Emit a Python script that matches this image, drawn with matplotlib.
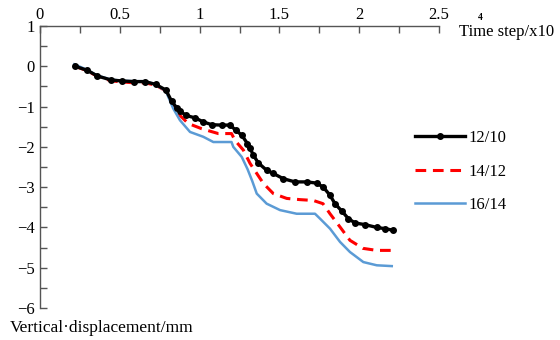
import numpy as np
import matplotlib.pyplot as plt
from matplotlib.ticker import MultipleLocator

# ========================
# data
# ========================
x_1210 = [0.22, 0.296, 0.359, 0.445, 0.516, 0.589, 0.658, 0.725, 0.789, 0.825,
          0.857, 0.877, 0.915, 0.971, 1.023, 1.076, 1.138, 1.19, 1.228, 1.264,
          1.30, 1.316, 1.336, 1.368, 1.42, 1.462, 1.524, 1.598, 1.671, 1.734,
          1.775, 1.817, 1.848, 1.89, 1.932, 1.974, 2.036, 2.11, 2.16, 2.214]
y_1210 = [0.0, -0.10, -0.24, -0.34, -0.365, -0.38, -0.38, -0.45, -0.59, -0.87,
          -1.03, -1.11, -1.22, -1.28, -1.38, -1.45, -1.46, -1.46, -1.59, -1.71,
          -1.92, -2.03, -2.20, -2.40, -2.58, -2.66, -2.79, -2.87, -2.87, -2.90,
          -3.00, -3.20, -3.41, -3.59, -3.78, -3.89, -3.93, -4.00, -4.03, -4.07]

x_1412 = [0.22, 0.296, 0.359, 0.445, 0.516, 0.589, 0.658, 0.725, 0.789, 0.825,
          0.857, 0.877, 0.929, 1.013, 1.117, 1.20, 1.222, 1.274, 1.316, 1.358,
          1.40, 1.462, 1.546, 1.629, 1.712, 1.773, 1.817, 1.88, 1.942, 2.024,
          2.11, 2.21]
y_1412 = [0.0, -0.11, -0.25, -0.36, -0.39, -0.41, -0.41, -0.47, -0.61, -0.90,
          -1.08, -1.22, -1.42, -1.55, -1.67, -1.67, -1.84, -2.08, -2.41, -2.66,
          -2.91, -3.16, -3.28, -3.31, -3.33, -3.41, -3.66, -3.99, -4.32, -4.52,
          -4.57, -4.57]

x_1614 = [0.215, 0.296, 0.359, 0.445, 0.516, 0.589, 0.658, 0.725, 0.789, 0.835,
          0.877, 0.94, 1.023, 1.086, 1.20, 1.211, 1.264, 1.30, 1.33, 1.358,
          1.42, 1.504, 1.608, 1.723, 1.754, 1.817, 1.88, 1.942, 2.026, 2.11,
          2.204]
y_1614 = [0.05, -0.09, -0.23, -0.33, -0.36, -0.37, -0.37, -0.45, -0.62, -1.05,
          -1.34, -1.63, -1.75, -1.88, -1.88, -2.00, -2.25, -2.55, -2.85, -3.16,
          -3.41, -3.57, -3.66, -3.66, -3.78, -4.03, -4.36, -4.61, -4.86, -4.94,
          -4.96]

x_ticks = [0, 0.5, 1, 1.5, 2, 2.5]
x_ticklabels = ["0", "0.5", "1", "1.5", "2", "2.5"]
y_ticks = [1, 0, -1, -2, -3, -4, -5, -6]

plt.rcParams["font.family"] = ["Liberation Serif", "DejaVu Serif"]
plt.rcParams["axes.unicode_minus"] = True

fig = plt.figure(figsize=(5.6, 3.4), dpi=100)
ax = fig.add_axes([40 / 560, 1 - 308 / 340, (439 - 40) / 560, (308 - 26) / 340])

ax.plot(x_1412, y_1412, color="#ff0000", lw=2.2, ls=(0, (3.5, 2.2)), label="14/12", zorder=2)
ax.plot(x_1614, y_1614, color="#5b9bd5", lw=1.8, label="16/14", zorder=3)
ax.plot(x_1210, y_1210, color="black", lw=2.4, marker="o", ms=4,
        label="12/10", zorder=4)

ax.set_xlim(0, 2.5)
ax.set_ylim(-6, 1)

# top axis + left axis only
ax.spines["bottom"].set_visible(False)
ax.spines["right"].set_visible(False)
for s in ("top", "left"):
    ax.spines[s].set_color("#555555")
    ax.spines[s].set_linewidth(1.0)

ax.xaxis.tick_top()
ax.set_xticks(x_ticks)
ax.set_xticklabels(x_ticklabels)
ax.xaxis.set_minor_locator(MultipleLocator(0.25))
ax.set_yticks(y_ticks)
ax.yaxis.set_minor_locator(MultipleLocator(0.5))
ax.tick_params(axis="both", which="both", direction="in", color="#555555",
               labelsize=12)
ax.tick_params(axis="both", which="major", length=5, width=1)
ax.tick_params(axis="both", which="minor", length=5, width=1)
ax.tick_params(axis="x", pad=2)
ax.tick_params(axis="y", pad=4)

# axis titles placed like the original
fig.text(459 / 560, 1 - 32 / 340, "Time step/x10", fontsize=12,
         ha="left", va="center")
fig.text(478 / 560, 1 - 17 / 340, "4", fontsize=7, fontweight="bold",
         ha="left", va="center")
fig.text(10 / 560, 1 - 328 / 340, "Vertical\u00b7displacement/mm", fontsize=12.5,
         ha="left", va="center")

handles, labels = ax.get_legend_handles_labels()
order = [2, 0, 1]
leg = ax.legend([handles[i] for i in order], [labels[i] for i in order],
                loc="upper left", bbox_to_anchor=(415 / 560, 1 - 130 / 340),
                bbox_transform=fig.transFigure, frameon=False, fontsize=12,
                handlelength=3.0, handletextpad=0.2, labelspacing=1.05,
                borderpad=0, borderaxespad=0, markerscale=1.0)
leg.legend_handles[0].set_markevery([1])

fig.savefig("out.png", dpi=100)
